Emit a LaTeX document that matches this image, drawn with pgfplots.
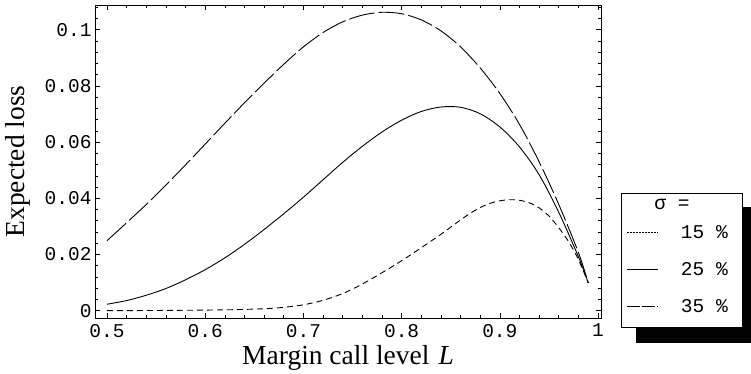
\documentclass[border=0pt]{standalone}
\usepackage{fontspec}
\setmainfont{Liberation Serif}
\setmonofont{Liberation Mono}
\usepackage{pgfplots}
\pgfplotsset{compat=1.18}
\begin{document}
\begin{tikzpicture}[x=1pt,y=1pt]
\path[use as bounding box] (0,0) rectangle (751,374);
\fill[black] (636,31) rectangle (760,167);
\filldraw[fill=white,draw=black,line width=0.8pt] (621,47) rectangle (742,181);
\node[font=\fontsize{19.5}{19.5}\ttfamily, anchor=base, inner sep=0pt] at (672,164) {σ\ =};
\begin{axis}[
 at={(95pt,56pt)}, anchor=south west,
 scale only axis, width=506pt, height=313pt,
 xmin=0.4878, xmax=1.003, ymin=-0.0026, ymax=0.1088,
 xtick={0.5,0.6,0.7,0.8,0.9,1}, xticklabels={0.5,0.6,0.7,0.8,0.9,1},
 ytick={0,0.02,0.04,0.06,0.08,0.1}, yticklabels={0,0.02,0.04,0.06,0.08,0.1},
 minor xtick={0.52,0.54,0.56,0.58,0.62,0.64,0.66,0.68,0.72,0.74,0.76,0.78,0.82,0.84,0.86,0.88,0.92,0.94,0.96,0.98},
 minor ytick={0.004,0.008,0.012,0.016,0.024,0.028,0.032,0.036,0.044,0.048,0.052,0.056,0.064,0.068,0.072,0.076,0.084,0.088,0.092,0.096,0.104,0.108},
 tick align=inside, major tick length=5pt, minor tick length=3pt,
 every tick/.style={line width=0.6pt, black},
 axis line style={line width=0.9pt},
 /pgf/number format/assume math mode=true,
 ticklabel style={font=\fontsize{19.5}{19.5}\ttfamily},
 xticklabel style={yshift=-2.5pt},
 xlabel={Margin call level\hspace{9pt}\textit{L}},
 ylabel={Expected loss},
 label style={font=\fontsize{27.5}{27.5}\selectfont},
 xlabel style={at={(axis description cs:0.5,-0.147)}, anchor=base},
 ylabel style={at={(axis description cs:-0.1532,0.5)}, anchor=center},
 legend style={at={(axis description cs:1.05138,0.29553)}, anchor=north west, draw=none, fill=none, inner sep=0pt, outer sep=0pt, row sep=24pt, column sep=22pt, nodes={inner sep=0pt, text height=13pt, text depth=0pt, font=\fontsize{19.5}{19.5}\ttfamily}},
 legend cell align=left,
 legend image code/.code={\draw[#1] (0pt,0pt) -- (31pt,0pt);},
]
\addplot[black, line width=0.9pt, smooth, tension=0.5, dash pattern=on 6pt off 4pt, legend image post style={dash pattern=on 2pt off 1pt, line width=0.7pt}] coordinates {
(0.50,0.0000) (0.56,0.0001) (0.62,0.0003) (0.66,0.0007) (0.68,0.0012) (0.70,0.0021) (0.72,0.0037) (0.74,0.0061) (0.76,0.0095) (0.78,0.0135) (0.80,0.0178) (0.82,0.0224) (0.84,0.0272) (0.86,0.0323) (0.87,0.0347) (0.88,0.0367) (0.89,0.0382) (0.90,0.0391) (0.91,0.0395) (0.92,0.0393) (0.93,0.0384) (0.94,0.0366) (0.95,0.0337) (0.96,0.0295) (0.97,0.0246) (0.98,0.0182) (0.99,0.0099)
};
\addlegendentry{15 \%}
\addplot[black, line width=0.9pt, smooth, tension=0.5] coordinates {
(0.50,0.0023) (0.52,0.0036) (0.54,0.0055) (0.56,0.0079) (0.58,0.0110) (0.60,0.0146) (0.62,0.0188) (0.64,0.0236) (0.66,0.0289) (0.68,0.0345) (0.70,0.0404) (0.72,0.0466) (0.74,0.0528) (0.76,0.0585) (0.78,0.0636) (0.80,0.0678) (0.82,0.0709) (0.84,0.0725) (0.86,0.0724) (0.88,0.0701) (0.90,0.0654) (0.92,0.0583) (0.94,0.0484) (0.96,0.0350) (0.98,0.0192) (0.99,0.0099)
};
\addlegendentry{25 \%}
\addplot[black, line width=0.9pt, smooth, tension=0.5, dash pattern=on 26pt off 4pt, legend image post style={dash pattern=on 13pt off 2pt}] coordinates {
(0.50,0.0249) (0.52,0.0313) (0.54,0.0378) (0.56,0.0447) (0.58,0.0519) (0.60,0.0593) (0.62,0.0667) (0.64,0.0740) (0.66,0.0810) (0.68,0.0877) (0.70,0.0939) (0.72,0.0990) (0.74,0.1028) (0.76,0.1052) (0.78,0.1062) (0.80,0.1057) (0.82,0.1035) (0.84,0.0996) (0.86,0.0939) (0.88,0.0864) (0.90,0.0773) (0.92,0.0663) (0.94,0.0530) (0.96,0.0378) (0.98,0.0207) (0.99,0.0099)
};
\addlegendentry{35 \%}
\end{axis}
\end{tikzpicture}
\end{document}
